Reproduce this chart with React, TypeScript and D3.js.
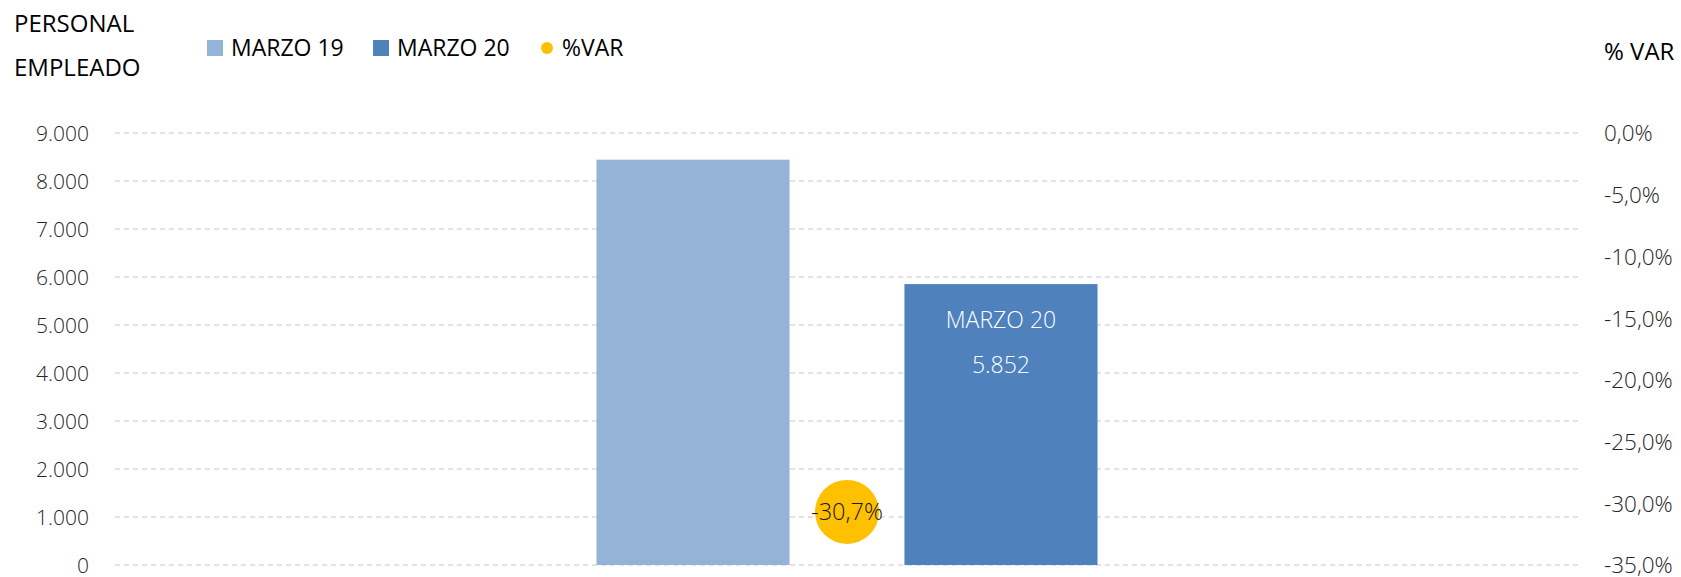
import React, { useRef, useEffect } from 'react';
import * as d3 from 'd3';

const categories = ['PERSONAL EMPLEADO'];
const seriesNames = ['MARZO 19', 'MARZO 20'];
const seriesColors = ['#95B3D7', '#4F81BD'];
const marzo19 = [8444];
const marzo20 = [5852];
const pctVar = [-30.7];
const leftTicks = [0, 1000, 2000, 3000, 4000, 5000, 6000, 7000, 8000, 9000];
const rightTicks = [0, -5, -10, -15, -20, -25, -30, -35];

const width = 1681;
const height = 577;
const FONT = '"Open Sans", "Noto Sans", sans-serif';

const locale = d3.formatLocale({
  decimal: ',',
  thousands: '.',
  grouping: [3],
  currency: ['', ' €'],
  minus: '-',
});
const fmtInt = locale.format(',.0f');
const fmtPct = (v: number) => locale.format('.1f')(v) + '%';

const App: React.FC = () => {
  const svgRef = useRef<SVGSVGElement>(null);

  useEffect(() => {
    if (!svgRef.current) return;
    const svg = d3.select(svgRef.current);
    svg.selectAll('*').remove();

    const left = 115;
    const right = 1579;
    const top = 133;
    const bottom = 565;

    const y = d3.scaleLinear().domain([0, 9000]).range([bottom, top]);
    const yRight = d3.scaleLinear().domain([-35, 0]).range([bottom, top]);

    const x0 = d3.scaleBand<string>()
      .domain(categories)
      .range([left, right])
      .paddingInner(0)
      .paddingOuter(0.961);
    const x1 = d3.scaleBand<string>()
      .domain(seriesNames)
      .range([0, x0.bandwidth()])
      .paddingInner(0.373)
      .paddingOuter(0);

    // grid lines
    svg.append('g')
      .selectAll('line')
      .data(leftTicks)
      .enter().append('line')
      .attr('x1', left)
      .attr('x2', right)
      .attr('y1', d => y(d))
      .attr('y2', d => y(d))
      .attr('stroke', '#D9D9D9')
      .attr('stroke-width', 1.3)
      .attr('stroke-dasharray', '5,4');

    // left axis
    const yAxis = d3.axisLeft(y).tickValues(leftTicks).tickFormat(d => fmtInt(d as number)).tickSize(0).tickPadding(0);
    const gl = svg.append('g').attr('transform', `translate(89,0)`).call(yAxis);
    gl.select('.domain').remove();
    gl.selectAll('text')
      .attr('font-family', FONT)
      .attr('font-weight', 300)
      .attr('font-size', 21)
      .attr('fill', '#262626')
      .attr('dy', '0.35em');

    // right axis
    const yAxisR = d3.axisRight(yRight).tickValues(rightTicks).tickFormat(d => fmtPct(d as number)).tickSize(0).tickPadding(0);
    const gr = svg.append('g').attr('transform', `translate(1604,0)`).call(yAxisR);
    gr.select('.domain').remove();
    gr.selectAll('text')
      .attr('font-family', FONT)
      .attr('font-weight', 300)
      .attr('font-size', 22.5)
      .attr('fill', '#262626')
      .attr('dy', '0.35em');

    // bars
    const rows = categories.map((c, i) => ({ cat: c, vals: [marzo19[i], marzo20[i]], pct: pctVar[i] }));
    const groups = svg.append('g')
      .selectAll('g')
      .data(rows)
      .enter().append('g')
      .attr('transform', d => `translate(${x0(d.cat)},0)`);

    groups.selectAll('rect')
      .data(d => d.vals.map((v, j) => ({ name: seriesNames[j], value: v, color: seriesColors[j] })))
      .enter().append('rect')
      .attr('x', d => x1(d.name) as number)
      .attr('width', x1.bandwidth())
      .attr('y', d => y(d.value))
      .attr('height', d => y(0) - y(d.value))
      .attr('fill', d => d.color);

    // data label on MARZO 20
    const lx = (x1('MARZO 20') as number) + x1.bandwidth() / 2;
    groups.append('text')
      .attr('x', lx)
      .attr('y', d => y(d.vals[1]) + 44)
      .attr('text-anchor', 'middle')
      .attr('font-family', FONT)
      .attr('font-weight', 300)
      .attr('font-size', 23)
      .attr('fill', '#FFFFFF')
      .text('MARZO 20');
    groups.append('text')
      .attr('x', lx)
      .attr('y', d => y(d.vals[1]) + 89)
      .attr('text-anchor', 'middle')
      .attr('font-family', FONT)
      .attr('font-weight', 300)
      .attr('font-size', 23)
      .attr('fill', '#FFFFFF')
      .text(d => fmtInt(d.vals[1]));

    // %VAR dot
    groups.append('circle')
      .attr('cx', x0.bandwidth() / 2)
      .attr('cy', d => yRight(d.pct))
      .attr('r', 32)
      .attr('fill', '#FFC000');
    groups.append('text')
      .attr('x', x0.bandwidth() / 2)
      .attr('y', d => yRight(d.pct))
      .attr('dy', '0.35em')
      .attr('text-anchor', 'middle')
      .attr('font-family', FONT)
      .attr('font-weight', 300)
      .attr('font-size', 23.5)
      .attr('fill', '#1a1a1a')
      .text(d => fmtPct(d.pct));

    // titles
    const titleFont = (sel: d3.Selection<SVGTextElement, unknown, null, undefined>) =>
      sel.attr('font-family', FONT).attr('font-size', 24).attr('fill', '#000000');
    svg.append('text').attr('x', 14).attr('y', 32).text('PERSONAL').call(titleFont);
    svg.append('text').attr('x', 14).attr('y', 76).text('EMPLEADO').call(titleFont);
    svg.append('text').attr('x', 1604).attr('y', 60).text('% VAR').call(titleFont);

    // legend
    const legend = svg.append('g');
    const legendItems = [
      { name: seriesNames[0], color: seriesColors[0], shape: 'rect', x: 207 },
      { name: seriesNames[1], color: seriesColors[1], shape: 'rect', x: 373 },
      { name: '%VAR', color: '#FFC000', shape: 'circle', x: 541 },
    ];
    legendItems.forEach(it => {
      if (it.shape === 'rect') {
        legend.append('rect').attr('x', it.x).attr('y', 40).attr('width', 16).attr('height', 16).attr('fill', it.color);
      } else {
        legend.append('circle').attr('cx', it.x + 6).attr('cy', 48).attr('r', 6).attr('fill', it.color);
      }
      legend.append('text')
        .attr('x', it.x + (it.shape === 'rect' ? 24 : 21))
        .attr('y', 56)
        .attr('font-family', FONT)
        .attr('font-size', 23)
        .attr('fill', '#000000')
        .text(it.name);
    });
  }, []);

  return (
    <div>
      <svg ref={svgRef} width={width} height={height} style={{ position: 'absolute', left: 0, top: 0 }} />
    </div>
  );
};

export default App;
